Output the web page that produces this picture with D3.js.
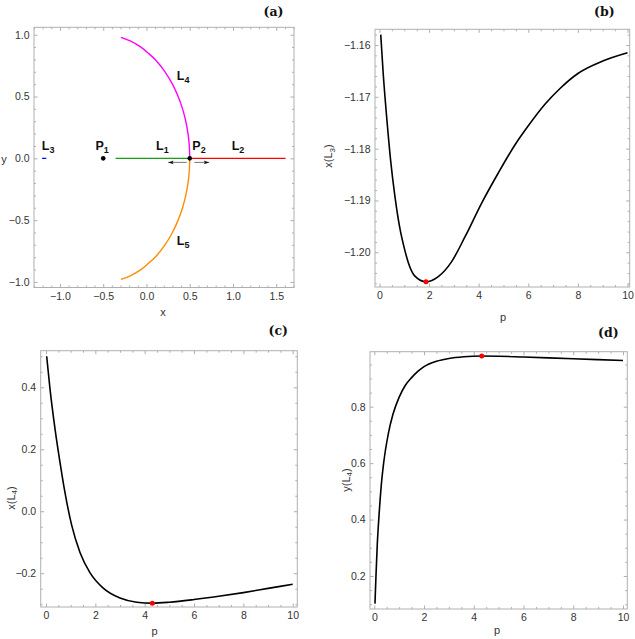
<!DOCTYPE html>
<html><head><meta charset="utf-8">
<script src="https://cdn.jsdelivr.net/npm/d3@7"></script>
<style>
html,body{margin:0;padding:0;background:#fff;}
svg{display:block;}
</style></head>
<body>
<svg id="chart" width="635" height="639"></svg>
<script>
// ---------- DATA ----------
// Panel (a): geometry
const arcX = [0.5, 0.495, 0.48, 0.454, 0.417, 0.366, 0.30, 0.214, 0.10, 0.03, -0.064, -0.188, -0.296];
const arcY = [0.0, 0.10, 0.20, 0.30, 0.40, 0.50, 0.60, 0.70, 0.80, 0.845, 0.90, 0.95, 0.979];
const segL1 = [-0.357, 0.5];
const segL2 = [0.5, 1.608];
const segL3 = [-1.2057, -1.158];
const primaries = [{name:"P1", x:-0.5, y:0}, {name:"P2", x:0.5, y:0}];
const arrowXs = [[0.465, 0.251], [0.553, 0.725]];
const arrowY = -0.033;

// Panel (b): x(L3) versus p
const pB  = [0.05, 0.15, 0.3, 0.45, 0.625, 0.827, 1.0, 1.163, 1.43, 1.875, 2.37, 2.91, 3.45, 4.12, 4.79, 5.46, 6.0, 6.68, 7.3, 8.0, 9.0, 10.0];
const xL3 = [-1.158, -1.1655, -1.1745, -1.1823, -1.1893, -1.1955, -1.1992, -1.2020, -1.2046, -1.2057, -1.2047, -1.2018, -1.1970, -1.1905, -1.1847, -1.1793, -1.1756, -1.1714, -1.1683, -1.1655, -1.1631, -1.1615];
const minB = [1.875, -1.2057];

// Panel (c): x(L4) versus p
const pC  = [0.027, 0.162, 0.365, 0.567, 0.77, 1.04, 1.378, 1.78, 2.32, 3.0, 3.68, 4.31, 5, 6, 7, 8, 9, 10];
const xL4 = [0.500, 0.395, 0.266, 0.158, 0.060, -0.045, -0.133, -0.198, -0.248, -0.280, -0.2935, -0.2965, -0.2935, -0.285, -0.2745, -0.2625, -0.249, -0.2355];
const minC = [4.31, -0.2965];

// Panel (d): y(L4) versus p
const pD  = [0.027, 0.067, 0.12, 0.19, 0.28, 0.375, 0.56, 0.75, 1.0, 1.25, 1.5, 1.75, 2.0, 2.5, 3.0, 3.6, 4.32, 5, 6, 7, 8, 9, 10];
const yL4 = [0.102, 0.200, 0.312, 0.415, 0.521, 0.600, 0.703, 0.773, 0.834, 0.876, 0.903, 0.925, 0.942, 0.961, 0.971, 0.977, 0.9795, 0.979, 0.976, 0.973, 0.970, 0.967, 0.964];
const maxD = [4.32, 0.9795];

// ticks
const ticksA_x = [-1.0, -0.5, 0.0, 0.5, 1.0, 1.5];
const ticksA_y = [-1.0, -0.5, 0.0, 0.5, 1.0];
const ticksP   = [0, 2, 4, 6, 8, 10];
const ticksB_y = [-1.20, -1.19, -1.18, -1.17, -1.16];
const ticksC_y = [-0.2, 0.0, 0.2, 0.4];
const ticksD_y = [0.2, 0.4, 0.6, 0.8];

// ---------- DRAW ----------
const svg = d3.select("#chart");
const FONT = "'Liberation Sans', Arial, Helvetica, sans-serif";
const TXT = "#333";

function minorVals(domain, step, majors) {
  const out = [];
  const i0 = Math.ceil(domain[0] / step - 1e-9), i1 = Math.floor(domain[1] / step + 1e-9);
  for (let i = i0; i <= i1; i++) {
    const v = +(i * step).toFixed(6);
    if (!majors.some(m => Math.abs(m - v) < step / 10)) out.push(v);
  }
  return out;
}

function panel(cfg) {
  const x = d3.scaleLinear().domain(cfg.xd).range([cfg.L, cfg.R]);
  const y = d3.scaleLinear().domain(cfg.yd).range([cfg.B, cfg.T]);
  const g = svg.append("g");
  const xMin = minorVals(cfg.xd, cfg.xMinor, cfg.xTicks);
  const yMin = minorVals(cfg.yd, cfg.yMinor, cfg.yTicks);

  function ax(gen, tr, vals, size, fmt, pad) {
    const a = g.append("g").attr("transform", tr)
      .call(gen.tickValues(vals).tickSize(size).tickPadding(pad).tickFormat(fmt));
    a.select(".domain").remove();
    a.selectAll("line").attr("stroke", "#999").attr("stroke-width", 0.8);
    a.selectAll("text").attr("fill", TXT).style("font-family", FONT).style("font-size", "10.5px");
    return a;
  }
  ax(d3.axisBottom(x), `translate(0,${cfg.B})`, cfg.xTicks, -3.5, d3.format(cfg.xf), 5);
  ax(d3.axisBottom(x), `translate(0,${cfg.B})`, xMin, -2, () => "", 5);
  ax(d3.axisTop(x), `translate(0,${cfg.T})`, cfg.xTicks, -3.5, () => "", 0);
  ax(d3.axisTop(x), `translate(0,${cfg.T})`, xMin, -2, () => "", 0);
  ax(d3.axisLeft(y), `translate(${cfg.L},0)`, cfg.yTicks, -3.5, d3.format(cfg.yf), 4.5);
  ax(d3.axisLeft(y), `translate(${cfg.L},0)`, yMin, -2, () => "", 4.5);
  ax(d3.axisRight(y), `translate(${cfg.R},0)`, cfg.yTicks, -3.5, () => "", 0);
  ax(d3.axisRight(y), `translate(${cfg.R},0)`, yMin, -2, () => "", 0);

  g.append("rect").attr("x", cfg.L).attr("y", cfg.T)
    .attr("width", cfg.R - cfg.L).attr("height", cfg.B - cfg.T)
    .attr("fill", "none").attr("stroke", "#b0b0b0").attr("stroke-width", 1);

  g.append("text").attr("x", cfg.xl[0]).attr("y", cfg.xl[1]).attr("dy", "0.35em")
    .attr("text-anchor", "middle").attr("fill", TXT)
    .style("font-family", FONT).style("font-size", "11px").text(cfg.xLabel);
  const yl = g.append("text").attr("transform", cfg.yRot ? `translate(${cfg.yl[0]},${cfg.yl[1]}) rotate(-90)` : `translate(${cfg.yl[0]},${cfg.yl[1]})`)
    .attr("dy", "0.35em").attr("text-anchor", "middle").attr("fill", TXT)
    .style("font-family", FONT).style("font-size", "11px");
  yl.append("tspan").text(cfg.yLabel[0]);
  if (cfg.yLabel[1]) {
    yl.append("tspan").attr("dy", "2.5").style("font-size", "8px").text(cfg.yLabel[1]);
    yl.append("tspan").attr("dy", "-2.5").text(cfg.yLabel[2]);
  }
  svg.append("text").attr("x", cfg.tag[0]).attr("y", cfg.tag[1]).attr("dy", "0.35em")
    .attr("text-anchor", "middle").attr("fill", "#111")
    .style("font-family", "'DejaVu Serif', 'Liberation Serif', serif")
    .style("font-weight", "bold").style("font-size", "12.5px").text(cfg.tagText);

  const clipId = "clip" + cfg.tagText.replace(/\W/g, "");
  svg.append("clipPath").attr("id", clipId).append("rect")
    .attr("x", cfg.L).attr("y", cfg.T).attr("width", cfg.R - cfg.L).attr("height", cfg.B - cfg.T);
  const plot = svg.append("g").attr("clip-path", `url(#${clipId})`);
  return {x, y, g, plot};
}

// ===== Panel (a) =====
const A = panel({L:34, R:294, T:27.3, B:287.5, xd:[-1.30, 1.705], yd:[-1.045, 1.06],
  xTicks:ticksA_x, yTicks:ticksA_y, xMinor:0.1, yMinor:0.1, xf:".1f", yf:".1f",
  xLabel:"x", xl:[163, 312], yLabel:["y"], yl:[4, 159], yRot:false,
  tag:[273.5, 11.7], tagText:"(a)"});

const hline = (seg, col) => A.plot.append("line")
  .attr("x1", A.x(seg[0])).attr("x2", A.x(seg[1])).attr("y1", A.y(0)).attr("y2", A.y(0))
  .attr("stroke", col).attr("stroke-width", 1.4);
hline(segL1, "#1a9a1a");
hline(segL2, "#ff0000");
hline(segL3, "#0000ff");

const arcLine = d3.line().curve(d3.curveCatmullRom.alpha(0.5));
const arcPts = arcX.map((v, i) => [A.x(v), A.y(arcY[i])]);
const arcPtsL5 = arcX.map((v, i) => [A.x(v), A.y(-arcY[i])]);
A.plot.append("path").attr("d", arcLine(arcPts)).attr("fill", "none")
  .attr("stroke", "#ff00ff").attr("stroke-width", 1.4);
A.plot.append("path").attr("d", arcLine(arcPtsL5)).attr("fill", "none")
  .attr("stroke", "#ff8c00").attr("stroke-width", 1.4);

const defs = svg.append("defs");
defs.append("marker").attr("id", "ah").attr("viewBox", "0 0 10 10")
  .attr("refX", 10).attr("refY", 5).attr("markerWidth", 8).attr("markerHeight", 5.5)
  .attr("markerUnits", "userSpaceOnUse").attr("orient", "auto")
  .append("path").attr("d", "M0,1.5 L10,5 L0,8.5 L2.5,5 Z").attr("fill", "#111");
arrowXs.forEach(a => {
  A.plot.append("line").attr("x1", A.x(a[0])).attr("x2", A.x(a[1]))
    .attr("y1", A.y(arrowY)).attr("y2", A.y(arrowY))
    .attr("stroke", "#666").attr("stroke-width", 0.9).attr("marker-end", "url(#ah)");
});

A.plot.selectAll("circle.p").data(primaries).enter().append("circle")
  .attr("cx", d => A.x(d.x)).attr("cy", d => A.y(d.y)).attr("r", 2.3).attr("fill", "#000");

function lbl(xv, yv, main, sub) {
  const t = svg.append("text").attr("x", A.x(xv)).attr("y", A.y(yv)).attr("fill", "#111")
    .style("font-family", FONT).style("font-weight", "bold").style("font-size", "12.5px");
  t.append("tspan").text(main);
  t.append("tspan").attr("dy", 3).style("font-size", "9px").text(sub);
}
lbl(-1.21, 0.071, "L", "3");
lbl(-0.59, 0.071, "P", "1");
lbl(0.11, 0.071, "L", "1");
lbl(0.53, 0.071, "P", "2");
lbl(0.985, 0.071, "L", "2");
lbl(0.35, 0.63, "L", "4");
lbl(0.35, -0.705, "L", "5");

// ===== Panel (b) =====
const curve = d3.line().curve(d3.curveMonotoneX);
const Bp = panel({L:375, R:629.7, T:29.3, B:287, xd:[-0.181, 10.089], yd:[-1.2067, -1.15697],
  xTicks:ticksP, yTicks:ticksB_y, xMinor:0.5, yMinor:0.002, xf:"d", yf:".2f",
  xLabel:"p", xl:[503, 317], yLabel:["x(L", "3", ")"], yl:[328.5, 156], yRot:true,
  tag:[604.3, 12], tagText:"(b)"});
Bp.plot.append("path").attr("d", curve(pB.map((p, i) => [Bp.x(p), Bp.y(xL3[i])])))
  .attr("fill", "none").attr("stroke", "#000").attr("stroke-width", 1.6);
Bp.plot.append("circle").attr("cx", Bp.x(minB[0])).attr("cy", Bp.y(minB[1])).attr("r", 2.5).attr("fill", "#ff0000");

// ===== Panel (c) =====
const Cp = panel({L:40.7, R:297.3, T:350.7, B:607, xd:[-0.215, 10.186], yd:[-0.309, 0.518],
  xTicks:ticksP, yTicks:ticksC_y, xMinor:0.5, yMinor:0.05, xf:"d", yf:".1f",
  xLabel:"p", xl:[154.5, 631.5], yLabel:["x(L", "4", ")"], yl:[10.7, 498], yRot:true,
  tag:[278.3, 331], tagText:"(c)"});
Cp.plot.append("path").attr("d", curve(pC.map((p, i) => [Cp.x(p), Cp.y(xL4[i])])))
  .attr("fill", "none").attr("stroke", "#000").attr("stroke-width", 1.6);
Cp.plot.append("circle").attr("cx", Cp.x(minC[0])).attr("cy", Cp.y(minC[1])).attr("r", 2.5).attr("fill", "#ff0000");

// ===== Panel (d) =====
const Dp = panel({L:370, R:627.3, T:351.7, B:609, xd:[-0.173, 10.173], yd:[0.083, 0.995],
  xTicks:ticksP, yTicks:ticksD_y, xMinor:0.5, yMinor:0.05, xf:"d", yf:".1f",
  xLabel:"p", xl:[497, 630.5], yLabel:["y(L", "4", ")"], yl:[345.7, 480], yRot:true,
  tag:[608.3, 332.3], tagText:"(d)"});
Dp.plot.append("path").attr("d", curve(pD.map((p, i) => [Dp.x(p), Dp.y(yL4[i])])))
  .attr("fill", "none").attr("stroke", "#000").attr("stroke-width", 1.6);
Dp.plot.append("circle").attr("cx", Dp.x(maxD[0])).attr("cy", Dp.y(maxD[1])).attr("r", 2.5).attr("fill", "#ff0000");
</script>
</body></html>
